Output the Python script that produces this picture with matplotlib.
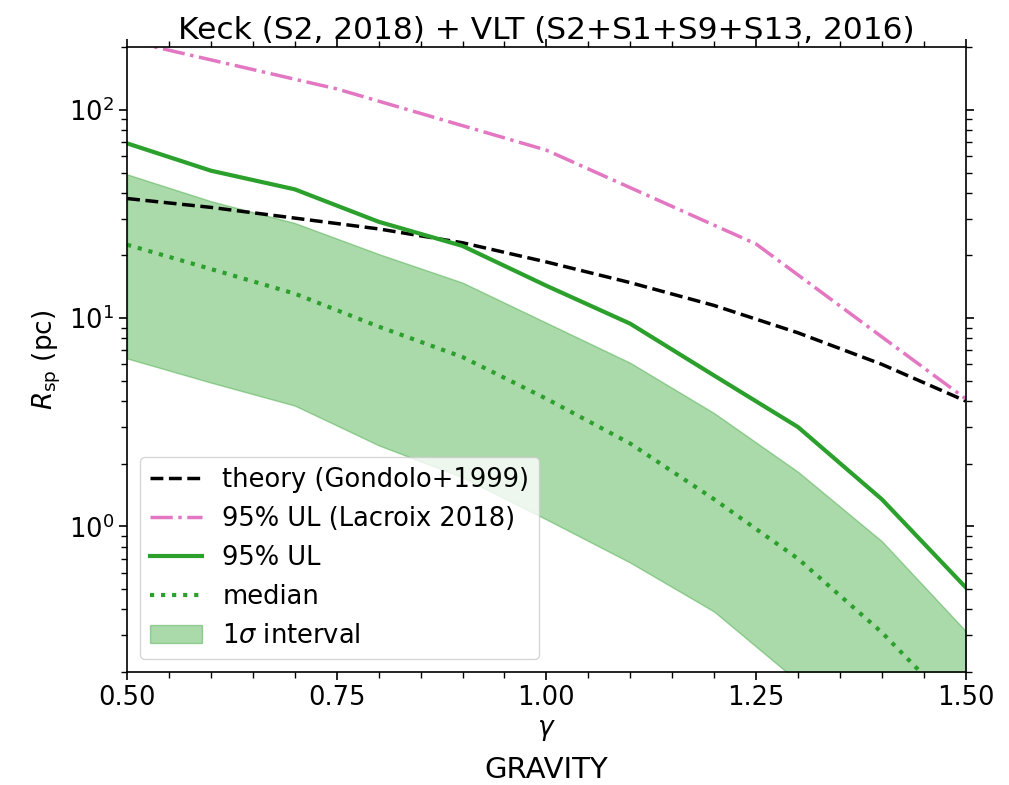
import numpy as np
import matplotlib
matplotlib.use("Agg")
import matplotlib.pyplot as plt

# gamma grid
gamma = [0.5, 0.6, 0.7, 0.8, 0.9, 1.0, 1.1, 1.2, 1.3, 1.4, 1.5]

theory = [37.5, 34.0, 30.2, 26.8, 23.0, 18.6, 14.8, 11.5, 8.5, 6.0, 4.0]
ul95 = [69, 51, 41.5, 29, 22.2, 14.3, 9.4, 5.3, 3.0, 1.35, 0.51]
median = [22.5, 17.2, 13.1, 9.1, 6.5, 4.1, 2.5, 1.35, 0.70, 0.31, 0.12]
sig_lo = [6.4, 4.9, 3.8, 2.45, 1.72, 1.08, 0.67, 0.39, 0.18, 0.08, 0.03]
sig_hi = [49, 36.4, 28.6, 20.3, 14.8, 9.5, 6.1, 3.5, 1.83, 0.85, 0.315]

# Lacroix 2018
gamma_lac = [0.5, 0.75, 1.0, 1.25, 1.5]
ul_lac = [215, 126, 64, 22.7, 4.1]

fig = plt.figure(figsize=(10.09, 7.85), dpi=100)
ax = fig.add_axes([0.126, 0.144, 0.831, 0.796])

ax.plot(gamma, theory, "k--", lw=2.5, label="theory (Gondolo+1999)")
ax.plot(gamma_lac, ul_lac, "-.", color="tab:pink", lw=2.5, label="95% UL (Lacroix 2018)")
ax.plot(gamma, ul95, "-", color="tab:green", lw=3, label="95% UL")
ax.plot(gamma, median, ":", color="tab:green", lw=3, label="median")
ax.fill_between(gamma, sig_lo, sig_hi, color="tab:green", alpha=0.4, label=r"1$\sigma$ interval")

ax.set_yscale("log")
ax.set_xlim(0.5, 1.5)
ax.set_ylim(0.2, 200)
ax.set_xticks([0.5, 0.75, 1.0, 1.25, 1.5])
ax.set_xticks(np.arange(0.5, 1.501, 0.05), minor=True)
ax.tick_params(which="both", top=True, right=True, labelsize=18.5)
ax.tick_params(which="major", length=6, width=1.2)
ax.tick_params(which="minor", length=4, width=1)
for s in ax.spines.values():
    s.set_linewidth(1.2)

ax.set_xlabel(r"$\gamma$", fontsize=19)
ax.set_ylabel(r"$R_{\rm sp}$ (pc)", fontsize=19)
ax.set_title("Keck (S2, 2018) + VLT (S2+S1+S9+S13, 2016)", fontsize=22.5)
ax.legend(loc="lower left", fontsize=18.5, handlelength=2.0)

fig.text(0.5415, 0.009, "GRAVITY", ha="center", fontsize=21)

fig.savefig("out.png", dpi=100)
